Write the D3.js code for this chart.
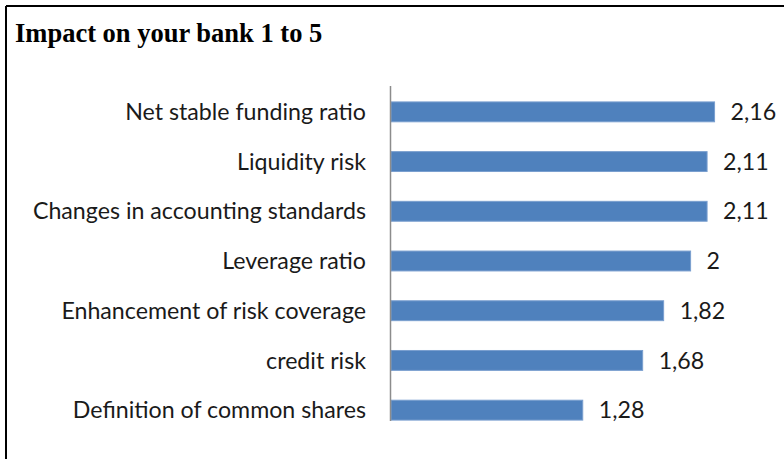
<!DOCTYPE html>
<html lang="en">
  <head>
    <meta charset="utf-8">
    <title>Impact on your bank 1 to 5</title>
    <script src="https://d3js.org/d3.v7.min.js"></script>
    <style>
      body { margin: 0; background: #fff; }
      .rotulo { font: 23.2px Lato, sans-serif; fill: #1a1a1a; }
      .titulo { font: bold 26.5px "Liberation Serif", "Times New Roman", serif; fill: #000; }
    </style>
  </head>
  <body>
    <div id="chart"></div>
    <script>
      // dados
      var categorias = ["Net stable funding ratio", "Liquidity risk", "Changes in accounting standards",
                        "Leverage ratio", "Enhancement of risk coverage", "credit risk",
                        "Definition of common shares"];
      var valores = [2.16, 2.11, 2.11, 2, 1.82, 1.68, 1.28];

      var largura = 784, altura = 459;
      var svg = d3.select("#chart").append("svg")
                  .attr("width", largura)
                  .attr("height", altura);

      // moldura (só topo e esquerda aparecem)
      svg.append("line").attr("x1", 6).attr("x2", largura).attr("y1", 6).attr("y2", 6)
         .attr("stroke", "#000").attr("stroke-width", 2);
      svg.append("line").attr("x1", 6).attr("x2", 6).attr("y1", 6).attr("y2", altura)
         .attr("stroke", "#000").attr("stroke-width", 2);

      svg.append("text").attr("class", "titulo")
         .attr("x", 15).attr("y", 42)
         .text("Impact on your bank 1 to 5");

      var x0 = 391;
      var x = d3.scaleLinear().domain([0, 2.5]).range([x0, x0 + 2.5 * 149.8]);
      var y = d3.scaleBand().domain(categorias).range([87, 435])
                .paddingInner(0.6).paddingOuter(0.3);

      var dados = categorias.map((c, i) => ({ nome: c, valor: valores[i] }));

      svg.selectAll("rect.barra")
        .data(dados)
        .enter()
        .append("rect")
          .attr("class", "barra")
          .attr("x", x(0))
          .attr("y", d => y(d.nome))
          .attr("width", d => x(d.valor) - x(0))
          .attr("height", y.bandwidth())
          .attr("fill", "#4f81bd")
          .attr("stroke", "#7a9fcf")
          .attr("stroke-width", 1);

      // eixo vertical
      var ultimo = categorias[categorias.length - 1];
      svg.append("line")
         .attr("x1", x(0) - 0.5).attr("x2", x(0) - 0.5)
         .attr("y1", y.range()[0] - 1)
         .attr("y2", y(ultimo) + y.bandwidth() + 1)
         .attr("stroke", "#8c8c8c").attr("stroke-width", 1.5);

      svg.selectAll("text.categoria")
        .data(dados)
        .enter()
        .append("text")
          .attr("class", "rotulo categoria")
          .attr("x", x(0) - 25)
          .attr("y", d => y(d.nome) + y.bandwidth() / 2)
          .attr("dy", "0.35em")
          .attr("text-anchor", "end")
          .text(d => d.nome);

      svg.selectAll("text.valor")
        .data(dados)
        .enter()
        .append("text")
          .attr("class", "rotulo valor")
          .attr("x", d => x(d.valor) + 16)
          .attr("y", d => y(d.nome) + y.bandwidth() / 2)
          .attr("dy", "0.35em")
          .text(d => String(d.valor).replace(".", ","));
    </script>
  </body>
</html>
